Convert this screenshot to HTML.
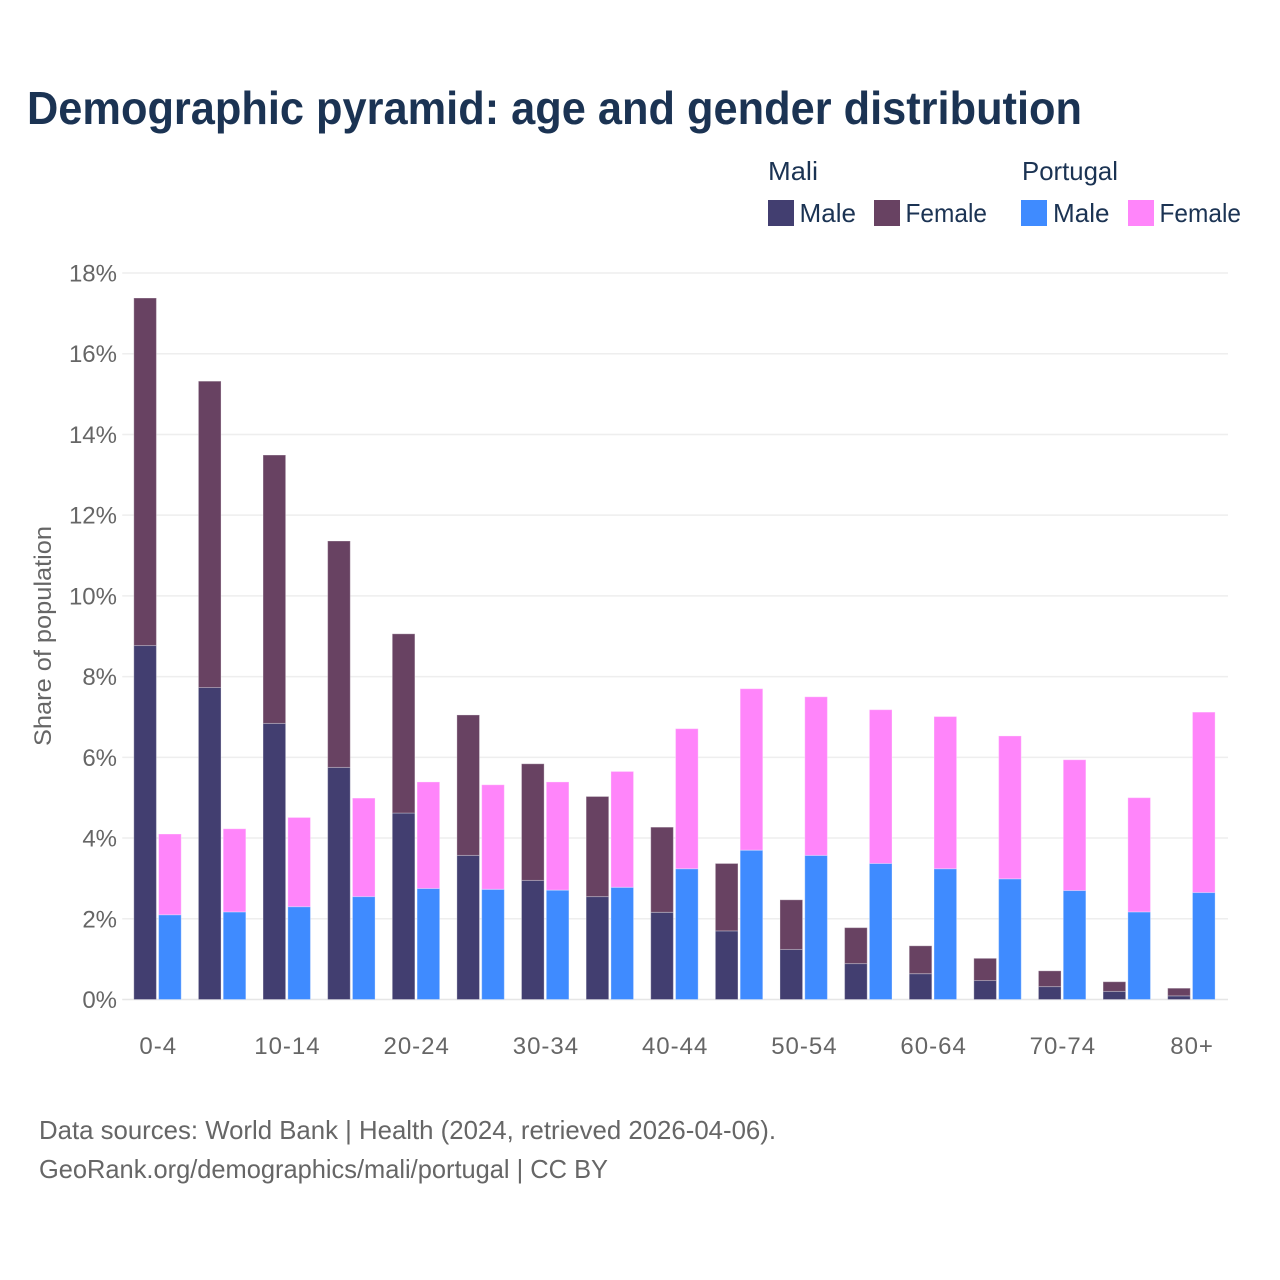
<!DOCTYPE html>
<html lang="en">
<head>
<meta charset="utf-8">
<title>Demographic pyramid</title>
<style>
html,body{margin:0;padding:0;background:#fff;width:1280px;height:1280px;overflow:hidden}
svg{display:block}
text{font-family:"Liberation Sans",sans-serif}
</style>
</head>
<body>
<svg id="chart" width="1280" height="1280" viewBox="0 0 1280 1280" xmlns="http://www.w3.org/2000/svg">
  <rect width="1280" height="1280" fill="#fff"/>
  <text x="27" y="124" font-size="46" font-weight="700" fill="#1b3353" textLength="1055" lengthAdjust="spacingAndGlyphs">Demographic pyramid: age and gender distribution</text>

  <g font-size="26" fill="#1b3353">
    <text x="768" y="180" textLength="50" lengthAdjust="spacingAndGlyphs">Mali</text>
    <text x="1022" y="180" textLength="96" lengthAdjust="spacingAndGlyphs">Portugal</text>
    <rect x="768" y="200" width="26" height="26" fill="#423e70"/>
    <text x="799.5" y="222" textLength="56.5" lengthAdjust="spacingAndGlyphs">Male</text>
    <rect x="874" y="200" width="26" height="26" fill="#684262"/>
    <text x="905.5" y="222" textLength="81.5" lengthAdjust="spacingAndGlyphs">Female</text>
    <rect x="1021" y="200" width="26" height="26" fill="#3f8bff"/>
    <text x="1053" y="222" textLength="56.5" lengthAdjust="spacingAndGlyphs">Male</text>
    <rect x="1128" y="200" width="26" height="26" fill="#ff85fa"/>
    <text x="1159.5" y="222" textLength="81.5" lengthAdjust="spacingAndGlyphs">Female</text>
  </g>

  <g id="grid"></g>
  <g id="y-ticks"></g>
  <g id="bars"></g>
  <g id="x-ticks"></g>

  <text transform="translate(51,636) rotate(-90)" text-anchor="middle" font-size="24" fill="#666" textLength="220" lengthAdjust="spacingAndGlyphs">Share of population</text>

  <text x="39" y="1139" font-size="26" fill="#666" textLength="737" lengthAdjust="spacingAndGlyphs">Data sources: World Bank | Health (2024, retrieved 2026-04-06).</text>
  <text x="39" y="1178" font-size="26" fill="#666" textLength="569" lengthAdjust="spacingAndGlyphs">GeoRank.org/demographics/mali/portugal | CC BY</text>
</svg>
<script>
const categories = ["0-4","5-9","10-14","15-19","20-24","25-29","30-34","35-39","40-44","45-49","50-54","55-59","60-64","65-69","70-74","75-79","80+"];
const xTickLabels = ["0-4","10-14","20-24","30-34","40-44","50-54","60-64","70-74","80+"];
const yTickValues = [0,2,4,6,8,10,12,14,16,18];
const maliMale = [8.77,7.73,6.84,5.75,4.62,3.57,2.95,2.55,2.16,1.70,1.24,0.89,0.64,0.47,0.32,0.20,0.09];
const maliFemale = [8.61,7.59,6.65,5.61,4.44,3.48,2.89,2.48,2.11,1.67,1.23,0.89,0.69,0.55,0.39,0.24,0.19];
const portugalMale = [2.10,2.17,2.30,2.55,2.75,2.73,2.71,2.78,3.24,3.70,3.57,3.37,3.24,2.99,2.70,2.17,2.65];
const portugalFemale = [2.00,2.06,2.21,2.44,2.64,2.59,2.68,2.87,3.47,4.00,3.93,3.81,3.77,3.54,3.24,2.83,4.47];

const NS = "http://www.w3.org/2000/svg";
const plotLeft = 125.2, plotRight = 1228, y0 = 999.5, yTop = 273;
const yMax = 18;
const bandStep = (1223.7 - plotLeft) / categories.length;
const barWidth = 22.6, barGap = 2.2;

function yScale(v){ return y0 - (v / yMax) * (y0 - yTop); }
function xCenter(i){ return plotLeft + bandStep * (i + 0.5); }

function make(tag, attrs, parent){
  const el = document.createElementNS(NS, tag);
  for (const k in attrs) el.setAttribute(k, attrs[k]);
  parent.appendChild(el);
  return el;
}

const gridG = document.getElementById("grid");
const yG = document.getElementById("y-ticks");
yTickValues.forEach(function(t){
  const y = yScale(t);
  const line = make("line", {x1: plotLeft - 3, x2: plotRight, y1: y, y2: y, stroke: t === 0 ? "#e6e6e6" : "#eeeeee", "stroke-width": 1.5}, gridG);
  
  
  const label = make("text", {x: 117, y: y + 8.5, "text-anchor": "end", "font-size": 24, fill: "#666"}, yG);
  
  
  label.textContent = t + "%";
});

const barsG = document.getElementById("bars");
function drawSegment(x, base, value, fill, name){
  const top = yScale(base + value);
  const bottom = yScale(base);
  const r = make("rect", {x: x, y: top, width: barWidth, height: Math.max(0, bottom - top), fill: fill, stroke: "rgba(255,255,255,0.3)", "stroke-width": 1}, barsG);
  
  
}
categories.forEach(function(cat, i){
  const c = xCenter(i);
  const xMali = c - barGap / 2 - barWidth;
  const xPortugal = c + barGap / 2;
  drawSegment(xMali, 0, maliMale[i], "#423e70", "bar-mali-male");
  drawSegment(xMali, maliMale[i], maliFemale[i], "#684262", "bar-mali-female");
  drawSegment(xPortugal, 0, portugalMale[i], "#3f8bff", "bar-portugal-male");
  drawSegment(xPortugal, portugalMale[i], portugalFemale[i], "#ff85fa", "bar-portugal-female");
});

const xG = document.getElementById("x-ticks");
xTickLabels.forEach(function(lbl){
  const i = categories.indexOf(lbl);
  const t = make("text", {x: xCenter(i) + 0.7, y: 1054, "text-anchor": "middle", "font-size": 24, fill: "#666", "letter-spacing": "1"}, xG);
  
  
  t.textContent = lbl;
});
</script>
</body>
</html>
